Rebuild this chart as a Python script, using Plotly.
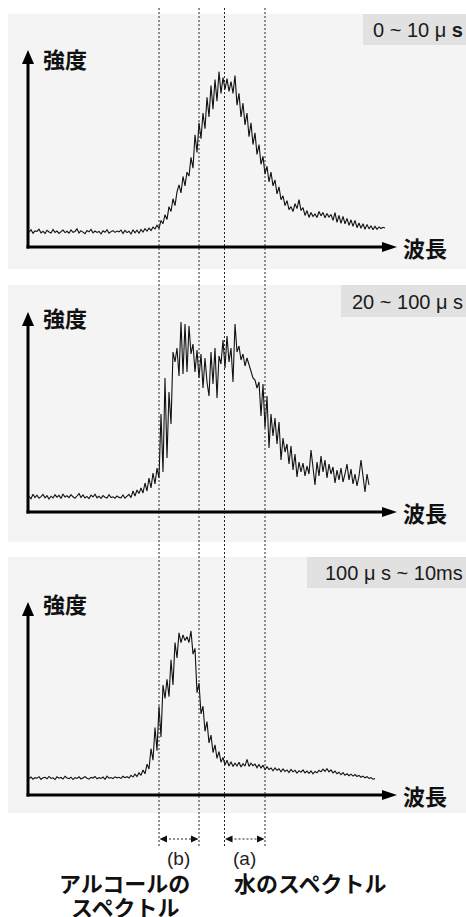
import plotly.graph_objects as go

# ---------------- data (arbitrary intensity units, 100 = top of the axis arrow) -------------
panel_labels = ["0 ~ 10 μ <b>s</b>", "20 ~ 100 μ s", "100 μ s ~ 10ms"]
y_axis_label = "強度"
x_axis_label = "波長"
band_labels = ["(b)", "(a)"]
band_names = [["アルコールの", "スペクトル"], ["水のスペクトル"]]

# 0~10 μs
intensity_early = [
    7.5, 8.8, 7.0, 8.2, 7.9, 9.0, 7.2, 8.0, 6.8, 8.5, 7.6, 7.1, 8.9, 7.4, 8.1, 6.9, 7.8, 8.6, 7.3, 8.0,
    7.0, 8.7, 7.5, 7.9, 9.2, 7.1, 8.3, 7.6, 6.8, 8.4, 7.7, 8.9, 7.2, 8.1, 7.4, 7.9, 6.7, 8.2, 7.5, 8.8,
    7.0, 7.8, 8.3, 7.4, 8.1, 7.7, 8.6, 6.9, 8.4, 7.3, 8.0, 6.6, 8.7, 7.2, 8.5, 7.0, 8.9, 7.6, 9.3, 8.1,
    9.6, 8.4, 10.1,
    9.2, 11.0, 9.5, 13.5, 11.8, 16.4, 14.0, 20.5, 18.0, 24.5,
    21.0, 28.0, 31.5, 27.5, 35.8, 31.0, 38.0, 36.0, 45.5, 40.0,
    57.0, 48.0, 63.0, 55.0, 68.0, 60.0, 76.0, 66.0, 82.0, 70.0,
    85.0, 74.0, 89.0, 78.0, 86.0, 80.0, 85.5, 79.0, 84.0, 78.0,
    87.0, 72.0, 78.0, 66.0, 73.0, 62.0, 68.0, 56.0, 63.0, 52.0,
    58.0, 47.0, 52.0, 42.0, 46.0, 37.0, 41.0, 33.0, 38.0, 31.0,
    34.0, 27.0, 30.5, 24.0, 26.0, 21.0, 23.5, 19.0, 20.5, 18.0,
    22.0, 19.5, 24.0, 18.5, 20.0, 16.0, 18.5, 15.0, 17.5, 15.5,
    16.8, 15.0, 18.0, 15.8, 17.5, 14.8, 17.0, 15.2, 16.5, 13.5,
    17.5, 12.5, 16.0, 12.0, 15.5, 11.8, 14.5, 11.0, 13.8, 10.5,
    13.5, 9.8, 12.2, 9.5, 11.8, 9.0, 11.5, 9.2, 10.8, 8.8,
    10.5, 9.0, 10.2, 9.4, 10.0, 9.6,
]

# 20~100 μs
intensity_mid = [
    7.8, 6.6, 8.9, 7.2, 8.4, 6.9, 7.7, 8.8, 7.1, 8.2, 6.5, 7.9, 7.0, 8.6, 7.4, 8.3, 6.8, 9.0, 7.5, 8.1,
    7.2, 8.7, 7.6, 6.9, 8.0, 9.2, 7.3, 8.5, 7.0, 7.8, 6.7, 8.4, 7.5, 8.9, 7.1, 7.9, 6.8, 8.2, 7.4, 7.0,
    8.6, 7.2, 7.6, 6.9, 8.0, 7.3, 7.1, 8.5, 6.9, 7.7, 8.8,
    7.2, 10.5, 8.0, 11.0, 9.2, 12.0, 9.5, 14.5, 10.5,
    17.0, 12.0, 19.5, 14.0, 22.0, 17.0,
    49.0, 20.0, 67.0, 27.0, 60.0, 44.0,
    80.0, 75.0, 82.0, 68.0, 95.0, 69.0,
    94.0, 70.0, 93.0, 79.0, 84.0, 70.0,
    81.0, 67.0, 79.0, 62.0, 77.0, 65.0,
    58.0, 80.0, 64.0, 82.0, 57.0, 78.0,
    74.0, 86.0, 72.0, 88.0, 75.0, 82.0,
    65.0, 94.0, 80.0, 83.0, 76.0, 79.0,
    73.0, 77.0, 74.0, 70.0, 67.0, 66.0,
    62.0, 65.0, 48.0, 64.0, 42.0, 58.0,
    32.0, 49.0, 38.0, 47.0, 34.0, 45.0,
    26.0, 37.0, 30.0, 34.0, 24.0, 33.0,
    21.0, 29.0, 17.5, 25.0, 20.0, 24.5,
    18.0, 23.0, 19.0, 31.0, 21.0, 13.5,
    25.0, 18.0, 28.0, 20.0, 26.0, 17.0,
    24.0, 19.0, 22.5, 14.5, 21.0, 16.0,
    22.0, 15.0, 19.0, 24.0, 16.0, 21.5,
    14.0, 19.0, 13.0, 18.0, 26.0, 17.0,
    10.0, 19.0, 13.5,
]

# 100 μs ~ 10 ms
intensity_late = [
    8.5, 9.3, 8.2, 9.0, 8.7, 9.5, 8.1, 8.9, 9.2, 8.4, 9.6, 8.6, 8.9, 8.0, 9.4, 8.7, 9.1, 8.3, 9.7, 8.8,
    8.5, 9.2, 8.0, 9.0, 8.6, 9.4, 8.3, 8.9, 9.5, 8.7, 8.2, 9.1, 8.8, 9.6, 8.4, 9.0, 8.6, 9.3, 8.1, 9.8,
    8.7, 9.0, 8.5, 9.4, 8.9, 9.2, 8.6, 9.7, 9.0, 9.5, 8.8, 10.2, 9.3, 10.8, 9.6, 11.5,
    10.2, 13.0, 11.0, 16.0, 13.5, 24.0, 18.0, 35.0, 23.0, 46.0,
    30.0, 57.0, 50.0, 60.0, 51.0, 70.0, 57.0, 79.0, 71.0, 84.0,
    79.0, 83.0, 80.0, 82.0, 79.0, 85.0, 73.0, 76.0, 53.0, 58.0,
    42.0, 46.0, 33.0, 38.0, 27.0, 31.0, 22.0, 26.0, 19.0, 22.5,
    17.0, 19.5, 15.5, 18.0, 15.0, 17.2, 14.8, 16.5, 15.0, 17.0,
    14.5, 16.2, 15.0, 18.5, 14.8, 16.5, 15.2, 16.0, 14.2, 15.8,
    14.0, 15.5, 13.0, 14.6, 13.2, 14.0, 12.5, 14.0, 12.8, 13.6,
    12.0, 13.5, 12.2, 13.0, 11.6, 13.2, 12.0, 12.8, 11.4, 12.6,
    11.8, 13.0, 11.5, 12.4, 11.2, 12.5, 11.0, 12.2, 11.5, 12.8,
    12.0, 13.4, 12.2, 13.6, 12.0, 13.0, 11.5, 12.4, 11.0, 11.8,
    10.5, 11.6, 10.2, 11.0, 10.0, 10.8, 9.8, 10.6, 9.6, 10.2,
    9.2, 9.8, 8.9, 9.5, 8.6, 9.0, 8.2, 8.5,
]

series = [intensity_early, intensity_mid, intensity_late]

# ---------------- layout (pixel geometry of the 466x917 page) -------------
W, H = 466, 917
AX_X = 28          # y-axis line position (page px)
AX_END = 397       # x-axis arrow tip (page px)
panels = [
    dict(top=14, bottom=269, axis_y=247, tip_y=50, box_left=363, box_bottom=45, ylab=58),
    dict(top=285, bottom=542, axis_y=512, tip_y=312, box_left=341, box_bottom=317, ylab=317),
    dict(top=557, bottom=813, axis_y=795, tip_y=602, box_left=307, box_bottom=588, ylab=603),
]
guide_x = [159, 199, 224.5, 265]
guide_top, guide_bottom = 8, 846
span_y = 839

JP = "Noto Sans CJK JP"
LAT = "Liberation Sans, Arial, sans-serif"


def px(x):
    return x / W


def py(y):
    return 1 - y / H


fig = go.Figure()
shapes = []
annotations = []

for k, (p, vals) in enumerate(zip(panels, series), start=1):
    xa = "x" if k == 1 else f"x{k}"
    ya = "y" if k == 1 else f"y{k}"
    fig.add_trace(go.Scatter(
        x=list(range(len(vals))), y=vals, mode="lines",
        line=dict(color="#111111", width=1.1), xaxis=xa, yaxis=ya,
        hoverinfo="skip", showlegend=False))
    axis_common = dict(showgrid=False, zeroline=False, showticklabels=False,
                       showline=False, ticks="", fixedrange=True)
    fig.layout[f"xaxis{'' if k == 1 else k}"] = dict(
        domain=[px(AX_X), px(AX_END)], range=[-0.5, 184], anchor=ya, **axis_common)
    fig.layout[f"yaxis{'' if k == 1 else k}"] = dict(
        domain=[py(p["axis_y"]), py(p["tip_y"])], range=[0, 100], anchor=xa, **axis_common)

    # panel background
    shapes.append(dict(type="rect", xref="paper", yref="paper", x0=px(8), x1=1,
                       y0=py(p["bottom"]), y1=py(p["top"]), fillcolor="#f4f4f4",
                       line=dict(width=0), layer="below"))
    # time label box
    shapes.append(dict(type="rect", xref="paper", yref="paper", x0=px(p["box_left"]), x1=1,
                       y0=py(p["box_bottom"]), y1=py(p["top"]), fillcolor="#e1e1e1",
                       line=dict(width=0), layer="below"))
    annotations.append(dict(xref="paper", yref="paper", x=px(465),
                            y=py((p["top"] + p["box_bottom"]) / 2 + 0.5),
                            text=panel_labels[k - 1], showarrow=False, xanchor="right",
                            yanchor="middle", font=dict(family=LAT, size=20, color="#1a1a1a")))
    # axes lines
    ay = p["axis_y"]
    shapes.append(dict(type="line", xref="paper", yref="paper", x0=px(AX_X), x1=px(AX_X),
                       y0=py(ay + 1.5), y1=py(p["tip_y"] + 8), line=dict(color="black", width=3),
                       layer="above"))
    shapes.append(dict(type="line", xref="paper", yref="paper", x0=px(AX_X - 1.5), x1=px(AX_END - 8),
                       y0=py(ay), y1=py(ay), line=dict(color="black", width=3), layer="above"))
    # arrow heads
    t = p["tip_y"]
    shapes.append(dict(type="path", xref="paper", yref="paper",
                       path=f"M {px(AX_X)},{py(t)} L {px(AX_X - 6)},{py(t + 14)} L {px(AX_X + 6)},{py(t + 14)} Z",
                       fillcolor="black", line=dict(width=0), layer="above"))
    shapes.append(dict(type="path", xref="paper", yref="paper",
                       path=f"M {px(AX_END)},{py(ay)} L {px(AX_END - 15)},{py(ay - 5)} L {px(AX_END - 15)},{py(ay + 5)} Z",
                       fillcolor="black", line=dict(width=0), layer="above"))
    # axis labels
    annotations.append(dict(xref="paper", yref="paper", x=px(41), y=py(p["ylab"]),
                            text=f"<b>{y_axis_label}</b>", showarrow=False, xanchor="left",
                            yanchor="middle", font=dict(family=JP, size=22, color="#111111")))
    annotations.append(dict(xref="paper", yref="paper", x=px(401), y=py(ay),
                            text=f"<b>{x_axis_label}</b>", showarrow=False, xanchor="left",
                            yanchor="middle", font=dict(family=JP, size=22, color="#111111")))

# dashed guide lines
for gx in guide_x:
    shapes.append(dict(type="line", xref="paper", yref="paper", x0=px(gx), x1=px(gx),
                       y0=py(guide_bottom), y1=py(guide_top),
                       line=dict(color="#222222", width=1, dash="2px,2px"), layer="above"))

# double-headed span arrows
for (a, b) in [(guide_x[0], guide_x[1]), (guide_x[2], guide_x[3])]:
    shapes.append(dict(type="line", xref="paper", yref="paper", x0=px(a + 6), x1=px(b - 6),
                       y0=py(span_y), y1=py(span_y),
                       line=dict(color="#222222", width=1, dash="2px,2px"), layer="above"))
    shapes.append(dict(type="path", xref="paper", yref="paper",
                       path=f"M {px(a + 0.5)},{py(span_y)} L {px(a + 8)},{py(span_y - 3.5)} L {px(a + 8)},{py(span_y + 3.5)} Z",
                       fillcolor="#111111", line=dict(width=0), layer="above"))
    shapes.append(dict(type="path", xref="paper", yref="paper",
                       path=f"M {px(b - 0.5)},{py(span_y)} L {px(b - 8)},{py(span_y - 3.5)} L {px(b - 8)},{py(span_y + 3.5)} Z",
                       fillcolor="#111111", line=dict(width=0), layer="above"))

# band labels
annotations.append(dict(xref="paper", yref="paper", x=px(178), y=py(858), text=band_labels[0],
                        showarrow=False, xanchor="center", yanchor="middle",
                        font=dict(family=LAT, size=19, color="#222222")))
annotations.append(dict(xref="paper", yref="paper", x=px(244), y=py(858), text=band_labels[1],
                        showarrow=False, xanchor="center", yanchor="middle",
                        font=dict(family=LAT, size=19, color="#222222")))
for i, line in enumerate(band_names[0]):
    annotations.append(dict(xref="paper", yref="paper", x=px(125), y=py(882 + 24 * i),
                            text=f"<b>{line}</b>", showarrow=False, xanchor="center",
                            yanchor="middle", font=dict(family=JP, size=22, color="#111111")))
annotations.append(dict(xref="paper", yref="paper", x=px(310), y=py(882),
                        text=f"<b>{band_names[1][0]}</b>", showarrow=False, xanchor="center",
                        yanchor="middle", font=dict(family=JP, size=22, color="#111111")))

fig.update_layout(
    width=W, height=H, margin=dict(l=0, r=0, t=0, b=0),
    paper_bgcolor="white", plot_bgcolor="rgba(0,0,0,0)",
    shapes=shapes, annotations=annotations, showlegend=False,
)

fig.write_html(
    "out.html",
    config={"displayModeBar": False},
    post_script=("document.body.style.margin='0';"
                 "document.body.style.overflow='hidden';"
                 "document.documentElement.style.overflow='hidden';"),
)
